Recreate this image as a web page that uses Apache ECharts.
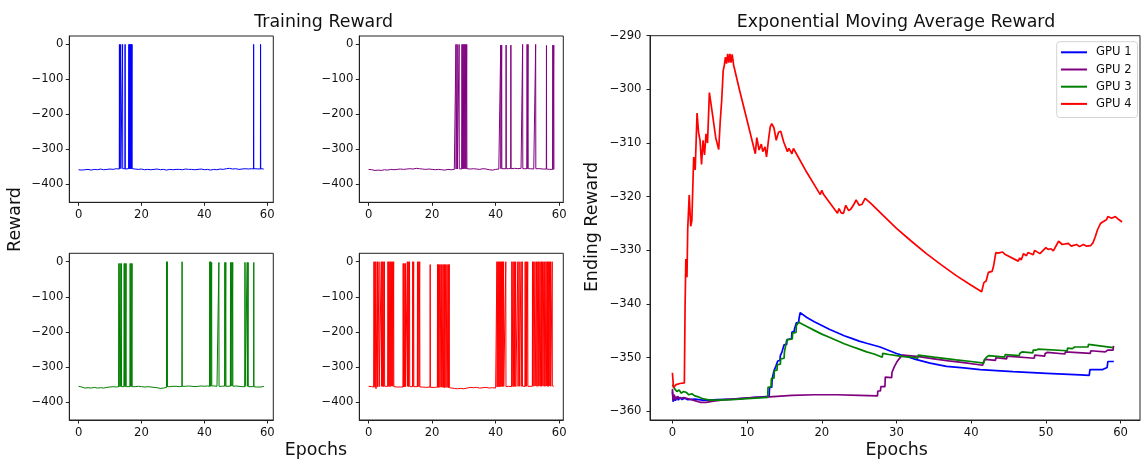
<!DOCTYPE html>
<html>
<head>
<meta charset="utf-8">
<script src="https://cdn.jsdelivr.net/npm/echarts@6/dist/echarts.min.js"></script>
<style>
html,body{margin:0;padding:0;background:#fff;}
#chart{width:1143px;height:460px;}
</style>
</head>
<body>
<div id="chart"></div>
<script>
// ---------------- DATA ----------------
const gpuNames = ['GPU 1', 'GPU 2', 'GPU 3', 'GPU 4'];
const gpuColors = ['#0000ff', '#800080', '#008000', '#ff0000'];

const smallXTicks = [0, 20, 40, 60];
const smallYTicks = [-400, -300, -200, -100, 0];
const emaXTicks = [0, 10, 20, 30, 40, 50, 60];
const emaYTicks = [-360, -350, -340, -330, -320, -310, -300, -290];

// Training reward, GPU 1 [epoch, reward]
const rewardGpu1 = [
  [0,-358],[0.5,-357],[1,-359],[1.5,-357],[2,-358],[3,-357],[4,-359],[5,-357],[6,-358],[7,-356],[8,-358],[9,-357],[10,-356],[11,-357],[12,-355],[12.95,-356],
  [13.0,0],[13.05,-355],[13.35,-355],[13.4,0],[13.45,-355],[13.95,-356],[14.0,0],[14.05,-355],[14.75,-355],[14.8,0],[14.85,-356],
  [15.95,-355],[16.0,0],[16.05,-355],[16.15,-355],[16.2,0],[16.25,-355],[16.35,-356],[16.4,0],[16.45,-355],[16.55,-355],[16.6,0],[16.65,-356],
  [16.75,-355],[16.8,0],[16.85,-355],[16.95,-355],[17.0,0],[17.05,-355],
  [18,-356],[19,-357],[20,-356],[21,-358],[22,-357],[23,-358],[24,-357],[25,-356],[26,-358],[27,-357],[28,-359],[29,-357],[30,-358],
  [31,-357],[32,-357],[33,-358],[34,-356],[35,-357],[36,-357],[37,-358],[38,-357],[39,-356],[40,-358],[41,-357],[42,-359],[43,-357],
  [44,-358],[45,-356],[46,-357],[47,-355],[48,-354],[49,-356],[50,-355],[51,-357],[52,-356],[53,-355],[54,-356],[55,-355],
  [55.65,-356],[55.7,0],[55.75,-355],[57.85,-356],[57.9,0],[57.95,-355],[58.5,-355],[58.9,-356]
];

// Training reward, GPU 2
const rewardGpu2 = [
  [0,-357],[1,-358],[2,-360],[3,-359],[4,-360],[5,-358],[6,-359],[7,-357],[8,-358],[9,-357],[10,-356],[11,-357],[12,-356],[13,-355],
  [14,-356],[15,-354],[16,-355],[17,-356],[18,-357],[19,-356],[20,-357],[21,-358],[22,-357],[23,-358],[24,-359],[25,-357],[26,-358],[27,-357],
  [27.45,-356],[27.5,0],[27.55,-356],[27.85,-355],[27.9,0],[27.95,-356],[28.45,-355],[28.5,0],[28.55,-355],
  [29.35,-356],[29.4,0],[29.45,-355],[29.65,-355],[29.7,0],[29.75,-356],[29.95,-355],[30.0,0],[30.05,-355],
  [30.25,-356],[30.3,0],[30.35,-355],[30.55,-355],[30.6,0],[30.65,-356],[30.85,-355],[30.9,0],[30.95,-355],
  [31.5,-355],[32,-356],[33,-355],[34,-356],[35,-357],[36,-355],[37,-356],[38,-358],[39,-359],[40,-357],[41,-356],
  [41.55,-356],[41.6,-2],[41.65,-355],[41.85,-355],[41.9,-2],[41.95,-355],[42.5,-355],[43.25,-355],[43.3,-2],[43.35,-355],
  [44,-355],[44.75,-354],[44.8,-2],[44.85,-355],[46,-354],[47,-355],[48,-354],[48.45,-355],[48.5,0],[48.55,-355],
  [49.2,-355],[49.85,-355],[49.9,0],[49.95,-355],[50.15,-354],[50.2,0],[50.25,-355],[51,-355],[52,-356],
  [52.55,-355],[52.6,0],[52.65,-355],[54,-355],[55,-356],[55.95,-356],[56.0,-3],[56.05,-356],[57,-357],
  [57.95,-357],[58.0,-2],[58.05,-357],[58.25,-357],[58.3,-2],[58.35,-357]
];

// Training reward, GPU 3
const rewardGpu3 = [
  [0,-355],[1,-357],[2,-360],[3,-359],[4,-360],[5,-358],[6,-360],[7,-359],[8,-360],[9,-358],[10,-357],[11,-356],[12,-357],
  [12.75,-356],[12.8,-5],[12.85,-356],[13.15,-356],[13.2,-5],[13.25,-356],[13.55,-355],[13.6,-5],[13.65,-356],
  [14.45,-356],[14.5,-5],[14.55,-355],[14.75,-356],[14.8,-5],[14.85,-356],[15.05,-355],[15.1,-5],[15.15,-356],
  [16.35,-356],[16.4,-5],[16.45,-355],[16.65,-356],[16.7,-5],[16.75,-356],[16.95,-355],[17.0,-5],[17.05,-356],
  [18,-356],[19,-355],[20,-356],[21,-357],[22,-356],[23,-357],[24,-358],[25,-359],[26,-361],[27,-360],
  [27.95,-358],[28.0,0],[28.05,-357],[28.15,-357],[28.2,0],[28.25,-356],[29,-356],[30,-355],[31,-355],[32,-356],
  [32.85,-355],[32.9,0],[32.95,-355],[34,-355],[35,-354],[36,-355],[37,-356],[38,-355],[39,-354],[40,-355],[41,-354],
  [41.65,-355],[41.7,0],[41.75,-355],[41.95,-354],[42.0,0],[42.05,-355],[42.25,-355],[42.3,-2],[42.35,-354],
  [43,-354],[44,-355],[44.55,-355],[44.6,-2],[44.65,-355],[45.5,-355],[46.45,-354],[46.5,-2],[46.55,-355],
  [46.75,-355],[46.8,-2],[46.85,-355],[47.5,-355],[48.25,-354],[48.3,-2],[48.35,-355],[48.65,-355],[48.7,-2],[48.75,-354],
  [48.95,-355],[49.0,-2],[49.05,-355],[50,-354],[51,-355],[52,-356],[52.85,-356],[52.9,-2],[52.95,-355],
  [53.55,-356],[53.6,-2],[53.65,-355],[53.85,-356],[53.9,-2],[53.95,-356],[54.8,-356],[55.65,-356],[55.7,-2],[55.75,-356],
  [56.5,-357],[57,-356],[58,-357],[58.9,-355]
];

// Training reward, GPU 4
const rewardGpu4 = [
  [0,-355],[1,-356],[1.65,-357],[1.7,0],[1.75,-356],[1.95,-357],[2.0,0],[2.05,-358],[2.25,-360],[2.3,0],[2.35,-362],
  [2.75,-361],[2.8,0],[2.85,-357],[3.25,-356],[3.3,0],[3.35,-356],[3.95,-355],[4.0,0],[4.05,-355],[4.25,-356],[4.3,0],[4.35,-355],
  [4.55,-355],[4.6,0],[4.65,-356],[4.95,-355],[5.0,0],[5.05,-355],[6.05,-355],[6.1,0],[6.15,-355],[6.35,-354],[6.4,0],[6.45,-355],
  [6.65,-355],[6.7,0],[6.75,-356],[6.95,-355],[7.0,0],[7.05,-355],[7.25,-355],[7.3,0],[7.35,-354],[7.55,-355],[7.6,0],[7.65,-355],
  [7.85,-356],[7.9,0],[7.95,-356],[9,-357],[10,-357],[10.85,-357],[10.9,-5],[10.95,-357],[11.15,-356],[11.2,-5],[11.25,-357],
  [11.55,-357],[11.6,-5],[11.65,-356],[12.15,-356],[12.2,0],[12.25,-355],[12.45,-356],[12.5,0],[12.55,-356],[12.85,-355],[12.9,0],[12.95,-356],
  [13.85,-356],[13.9,0],[13.95,-356],[14.15,-355],[14.2,0],[14.25,-356],[15.35,-356],[15.4,0],[15.45,-356],[15.75,-355],[15.8,0],[15.85,-356],
  [16.05,-356],[16.1,0],[16.15,-357],[17,-357],[18,-358],[19.35,-357],[19.4,-8],[19.45,-358],[20,-357],[21,-358],
  [21.65,-357],[21.7,-8],[21.75,-358],[21.95,-357],[22.0,-8],[22.05,-358],[22.35,-357],[22.4,-8],[22.45,-358],[22.75,-358],[22.8,-8],[22.85,-357],
  [23.05,-358],[23.1,-8],[23.15,-358],[23.45,-357],[23.5,-8],[23.55,-358],[23.85,-358],[23.9,-8],[23.95,-359],[24.25,-358],[24.3,-8],[24.35,-358],
  [24.65,-359],[24.7,-8],[24.75,-358],[25.05,-358],[25.1,-8],[25.15,-359],[25.35,-359],[25.4,-8],[25.45,-359],
  [26,-360],[27,-361],[28,-362],[29,-361],[30,-362],[31,-360],[32,-358],[33,-359],[34,-358],[35,-360],[36,-359],[37,-358],[38,-360],[39,-359],[40,-360],
  [40.35,-358],[40.4,0],[40.45,-357],[40.65,-357],[40.7,0],[40.75,-356],[40.95,-356],[41.0,0],[41.05,-356],[41.25,-356],[41.3,0],[41.35,-356],
  [41.55,-357],[41.6,0],[41.65,-356],[41.85,-356],[41.9,0],[41.95,-355],[42.15,-356],[42.2,0],[42.25,-356],[42.45,-356],[42.5,0],[42.55,-355],
  [43.15,-356],[43.2,0],[43.25,-356],[44,-355],[45.05,-356],[45.1,0],[45.15,-355],[45.45,-355],[45.5,0],[45.55,-356],[45.85,-355],[45.9,0],[45.95,-355],
  [46.25,-355],[46.3,0],[46.35,-356],[46.95,-355],[47.0,0],[47.05,-355],[47.35,-356],[47.4,0],[47.45,-355],[47.95,-355],[48.0,0],[48.05,-355],
  [48.35,-356],[48.4,0],[48.45,-355],[49.25,-355],[49.3,0],[49.35,-355],[49.65,-354],[49.7,0],[49.75,-355],[50.05,-355],[50.1,0],[50.15,-355],
  [51.55,-355],[51.6,0],[51.65,-354],[51.95,-355],[52.0,0],[52.05,-355],[52.35,-355],[52.4,0],[52.45,-354],
  [52.85,-355],[52.9,0],[52.95,-355],[53.25,-354],[53.3,0],[53.35,-355],[53.55,-355],[53.6,0],[53.65,-354],[53.95,-355],[54.0,0],[54.05,-355],
  [54.35,-354],[54.4,0],[54.45,-355],[54.75,-355],[54.8,0],[54.85,-354],[55.15,-355],[55.2,0],[55.25,-355],
  [55.45,-354],[55.5,0],[55.55,-355],[55.85,-355],[55.9,0],[55.95,-354],[56.25,-355],[56.3,0],[56.35,-355],[56.55,-354],[56.6,0],[56.65,-355],
  [56.95,-355],[57.0,0],[57.05,-354],[57.25,-355],[57.3,0],[57.35,-355],[57.75,-355],[57.8,0],[57.85,-354],[58.3,-355]
];

// Exponential moving average of the ending reward
const emaGpu1 = [
  [0,-356.3],[0.1,-358.2],[0.25,-357.2],[0.4,-358.0],[0.6,-357.3],[0.8,-357.9],[1.0,-357.4],[1.3,-357.8],[1.6,-357.5],[2,-357.8],[3,-357.7],
  [4,-357.9],[5,-357.9],[6,-357.8],[8,-357.7],[10,-357.5],[12.95,-357.2],
  [13.0,-355.6],[13.3,-355.5],[13.35,-354.0],[13.55,-353.9],[13.6,-352.4],[13.8,-352.3],[13.85,-351.6],[14.05,-351.5],[14.1,-350.6],
  [14.4,-350.5],[14.45,-349.6],[14.6,-349.5],[14.65,-349.0],[14.9,-349.0],[14.95,-347.6],[15.3,-347.5],[15.35,-346.6],[15.95,-346.5],
  [16.0,-345.2],[16.3,-345.1],[16.35,-344.6],[16.55,-344.5],[16.6,-343.5],[16.9,-343.4],[16.95,-342.7],[17.05,-342.7],[17.1,-341.6],
  [18,-342.5],[19,-343.3],[20,-344.0],[21,-344.7],[22,-345.3],[23,-345.9],[24,-346.4],[25,-346.9],[26,-347.3],[27.8,-348.0],
  [30,-349.2],[32.3,-350.2],[34.5,-351.0],[36.7,-351.6],[39,-351.9],[41.2,-352.2],[45.6,-352.6],[50.1,-352.9],[54.6,-353.2],
  [55.8,-353.3],[55.9,-352.2],[57.6,-352.2],[57.7,-351.9],[58.2,-351.8],[58.3,-350.7],[59.1,-350.7]
];
const emaGpu2 = [
  [0,-355.8],[0.1,-358.0],[0.25,-356.9],[0.45,-357.8],[0.7,-357.2],[1.0,-357.6],[1.5,-357.4],[2,-357.6],[3,-358.0],[3.7,-358.3],
  [4.5,-358.3],[5.5,-358.1],[7,-357.8],[9,-357.6],[11,-357.4],[13,-357.3],[16,-357.0],[19,-356.9],[22,-356.9],[25,-357.0],[27.45,-357.1],
  [27.5,-356.2],[27.85,-356.2],[27.9,-355.4],[28.45,-355.4],[28.5,-353.6],[29.35,-353.7],[29.4,-352.7],[29.65,-352.6],[29.7,-351.7],
  [29.95,-351.7],[30.0,-350.9],[30.25,-350.8],[30.3,-350.3],[30.55,-350.2],[30.6,-349.8],[30.85,-349.7],[30.9,-349.5],
  [33,-349.8],[35,-350.2],[37,-350.6],[39,-350.9],[41.55,-351.4],[41.6,-350.9],[41.85,-350.9],[41.9,-350.3],[43.25,-350.5],[43.3,-350.0],
  [44.75,-350.2],[44.8,-349.7],[48.45,-350.1],[48.5,-349.5],[49.85,-349.7],[49.9,-349.2],[50.15,-349.2],[50.2,-349.0],[52.55,-349.3],
  [52.6,-348.9],[55.95,-349.2],[56.0,-348.7],[57.95,-348.9],[58.0,-348.6],[58.25,-348.6],[58.3,-348.4],[59.0,-348.6],[59.05,-347.8]
];
const emaGpu3 = [
  [0,-355.0],[0.3,-355.8],[0.6,-356.3],[0.9,-356.0],[1.2,-356.6],[1.5,-356.3],[1.9,-356.5],[2.2,-356.9],[2.6,-356.7],[3.0,-357.1],
  [3.5,-357.3],[4,-357.6],[5,-357.9],[6,-357.9],[8,-357.8],[10,-357.6],[12.75,-357.4],
  [12.8,-355.5],[13.2,-355.4],[13.25,-353.9],[13.6,-353.8],[13.65,-352.4],[14.0,-352.3],[14.05,-351.3],[14.45,-351.2],[14.5,-350.2],
  [14.95,-350.1],[15.0,-348.9],[15.25,-348.8],[15.3,-346.7],[16.05,-346.5],[16.1,-345.4],[16.55,-345.3],[16.6,-344.0],[16.85,-343.9],[16.9,-343.4],
  [18,-344.2],[19,-344.9],[20,-345.6],[21,-346.2],[22,-346.8],[23,-347.4],[24,-347.9],[25,-348.4],[26,-348.9],[27,-349.3],[28.1,-349.9],
  [28.15,-349.2],[29,-349.4],[30,-349.6],[31,-349.8],[32,-349.9],[32.85,-350.1],[32.9,-349.5],[35,-349.9],[38,-350.4],[40,-350.7],
  [41.7,-351.0],[41.75,-350.4],[42.0,-350.4],[42.05,-349.9],[42.3,-349.9],[42.35,-349.6],[44.5,-349.9],[44.55,-349.4],[46.45,-349.6],
  [46.5,-349.2],[46.75,-349.2],[46.8,-348.9],[48.25,-349.1],[48.3,-348.6],[48.65,-348.6],[48.7,-348.4],[48.95,-348.4],[49.0,-348.2],
  [52.85,-348.7],[52.9,-348.2],[53.55,-348.3],[53.6,-348.0],[53.85,-348.0],[53.9,-347.8],[55.65,-348.0],[55.7,-347.5],[59.0,-348.1]
];
const emaGpu4 = [
  [0,-352.8],[0.15,-355.6],[0.5,-355.0],[1.0,-354.8],[1.6,-354.7],[1.7,-340.0],[1.8,-331.6],[1.95,-335.0],[2.05,-326.0],[2.25,-319.7],
  [2.45,-325.5],[2.6,-324.5],[2.85,-312.6],[3.05,-315.0],[3.3,-304.4],[3.5,-308.0],[3.7,-309.5],[3.9,-314.0],[4.1,-309.5],[4.3,-312.2],
  [4.5,-308.3],[4.7,-310.0],[4.95,-300.6],[5.4,-305.0],[5.8,-309.0],[6.2,-311.2],[6.4,-306.0],[6.6,-302.0],[6.8,-296.5],[6.95,-295.5],
  [7.1,-294.0],[7.25,-295.2],[7.4,-293.4],[7.55,-295.0],[7.7,-293.4],[7.85,-295.0],[8.0,-293.5],[8.2,-295.5],[9.0,-300.2],[10.0,-305.8],
  [11.1,-312.0],[11.3,-309.0],[11.6,-311.3],[11.9,-310.2],[12.1,-311.6],[12.4,-310.7],[12.6,-312.6],[12.9,-309.0],[13.1,-307.0],[13.3,-306.4],
  [13.6,-307.2],[13.9,-309.5],[14.2,-308.0],[14.5,-307.8],[14.9,-309.8],[15.4,-311.6],[15.6,-311.0],[16.0,-312.0],[16.2,-311.0],[16.6,-312.0],
  [18.0,-315.5],[19.8,-319.6],[20.0,-318.8],[20.2,-319.5],[22.1,-323.1],[22.3,-322.2],[22.6,-323.0],[22.9,-323.1],[23.2,-321.6],[23.6,-322.6],
  [23.9,-322.3],[24.3,-321.4],[24.6,-320.6],[25.0,-321.6],[25.4,-321.4],[25.8,-320.3],[26.6,-321.3],[28,-323.2],[30,-325.9],[32,-328.3],
  [34,-330.6],[36,-332.7],[38,-334.7],[40,-336.5],[41.4,-337.7],[41.7,-336.0],[42.0,-335.7],[42.3,-334.1],[42.8,-333.9],[43.0,-332.9],
  [43.3,-330.4],[43.6,-330.5],[44.2,-330.3],[44.5,-330.7],[46.3,-332.0],[46.5,-331.4],[46.7,-331.8],[47.0,-330.6],[47.4,-331.0],[47.6,-330.4],
  [48.3,-330.8],[48.5,-330.0],[49.2,-330.6],[50.0,-329.5],[50.3,-329.8],[50.7,-329.7],[51.0,-330.1],[51.7,-328.3],[52.2,-328.9],[53.0,-328.7],
  [53.4,-329.2],[54.1,-328.9],[54.5,-329.3],[55.0,-328.9],[55.4,-329.2],[56.0,-329.1],[56.3,-328.6],[56.6,-327.5],[56.9,-326.2],[57.3,-325.0],
  [57.6,-324.7],[58.1,-324.3],[58.3,-323.7],[58.8,-324.0],[59.3,-323.7],[59.8,-324.3],[60.2,-324.7]
];

const rewardSeries = [rewardGpu1, rewardGpu2, rewardGpu3, rewardGpu4];
const emaSeries = [emaGpu1, emaGpu2, emaGpu3, emaGpu4];

// ---------------- CHART ----------------
const FONT = 'DejaVu Sans';
const TXT = '#111';
const minus = v => String(v).replace('-', '\u2212');

const smallGrids = [
  {left: 69.3, top: 36, width: 204, height: 166.3},
  {left: 359.3, top: 36, width: 204, height: 166.3},
  {left: 69.3, top: 253.3, width: 204, height: 166.7},
  {left: 359.3, top: 253.3, width: 204, height: 166.7}
];
const smallXRange = [[-2.95, 61.95], [-2.92, 61.3], [-2.95, 61.9], [-2.92, 61.3]];

function gridCfg(g) {
  return Object.assign({show: true, borderColor: '#222', borderWidth: 1, backgroundColor: 'transparent', containLabel: false}, g);
}
function axisCfg(gi, min, max, ticks, margin) {
  return {
    type: 'value', gridIndex: gi, min: min, max: max,
    axisLine: {show: true, onZero: false, lineStyle: {color: '#222', width: 1}},
    axisTick: {show: true, length: 3.5, customValues: ticks, lineStyle: {color: '#222', width: 1}},
    axisLabel: {customValues: ticks, fontFamily: FONT, fontSize: 11.6, color: TXT,
      margin: margin, formatter: minus},
    splitLine: {show: false}
  };
}

const grids = smallGrids.map(gridCfg);
grids.push(gridCfg({left: 650, top: 35.7, width: 490, height: 384.3}));

const xAxes = [], yAxes = [], series = [];
for (let i = 0; i < 4; i++) {
  xAxes.push(axisCfg(i, smallXRange[i][0], smallXRange[i][1], smallXTicks, 7));
  yAxes.push(axisCfg(i, -451, 24, smallYTicks, 6));
  series.push({
    name: 'reward ' + gpuNames[i], type: 'line', xAxisIndex: i, yAxisIndex: i,
    data: rewardSeries[i], showSymbol: false, symbol: 'none', animation: false,
    lineStyle: {color: gpuColors[i], width: 1}, itemStyle: {color: gpuColors[i]}
  });
}
xAxes.push(axisCfg(4, -3, 62.6, emaXTicks, 7));
yAxes.push(axisCfg(4, -361.6, -290, emaYTicks, 8.5));
for (let i = 0; i < 4; i++) {
  series.push({
    name: gpuNames[i], type: 'line', xAxisIndex: 4, yAxisIndex: 4,
    data: emaSeries[i], showSymbol: false, symbol: 'none', animation: false,
    lineStyle: {color: gpuColors[i], width: 1.7}, itemStyle: {color: gpuColors[i]}
  });
}

function label(text, x, y, size, rot) {
  return {type: 'text', x: x, y: y, rotation: rot || 0, silent: true,
    style: {text: text, fontFamily: FONT, fontSize: size, fill: TXT, align: 'center', verticalAlign: 'middle'}};
}

const option = {
  backgroundColor: '#fff',
  animation: false,
  grid: grids,
  xAxis: xAxes,
  yAxis: yAxes,
  series: series,
  legend: {
    data: gpuNames, orient: 'vertical', left: 1056.7, top: 41.7,
    padding: [2, 6, 5, 4.3], itemGap: 0, itemWidth: 26, itemHeight: 2, icon: 'rect',
    backgroundColor: 'rgba(255,255,255,0.8)', borderColor: '#d4d4d4', borderWidth: 1, borderRadius: 3,
    textStyle: {fontFamily: FONT, fontSize: 11.6, color: TXT, lineHeight: 17.2, padding: [0, 0, 0, 4]},
    selectedMode: false
  },
  graphic: [
    label('Training Reward', 323.7, 22, 17.4),
    label('Exponential Moving Average Reward', 896, 22, 17.4),
    label('Epochs', 316, 450, 17.4),
    label('Epochs', 896.7, 450, 17.4),
    label('Reward', 15, 219.5, 17.4, Math.PI / 2),
    label('Ending Reward', 592, 227, 17.4, Math.PI / 2)
  ]
};

const chart = echarts.init(document.getElementById('chart'), null, {renderer: 'canvas'});
chart.setOption(option);
</script>
</body>
</html>
